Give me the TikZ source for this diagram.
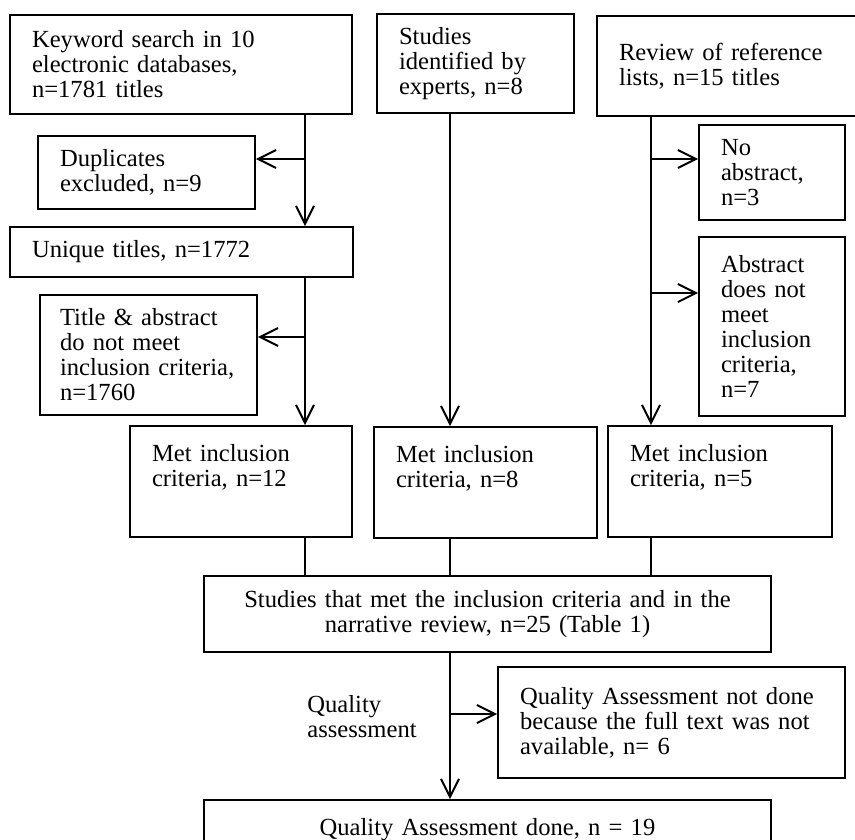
\documentclass[tikz,border=0pt]{standalone}
\usepackage{fontspec}
\setmainfont{Liberation Serif}
\usetikzlibrary{positioning, arrows.meta}

\begin{document}
\begin{tikzpicture}[x=0.02cm, y=-0.02cm,
    every node/.style={font=\fontsize{14}{14.2}\selectfont},
    box/.style={draw, line width=1.1pt, inner xsep=0.44cm, inner ysep=0pt, align=left},
    arr/.style={line width=1.1pt, -{Straight Barb[length=0.36cm, width=0.36cm, line width=1.1pt]}},
    link/.style={line width=0.75pt}]
                \useasboundingbox (0,0) rectangle (855,839);

                % Columns and branch points
                \coordinate (LeftCol) at (305,0);
                \coordinate (MidCol) at (450,0);
                \coordinate (RightCol) at (651,0);
                \coordinate (DupBranch) at (305,159);
                \coordinate (TitleBranch) at (305,337);
                \coordinate (NoAbsBranch) at (651,159);
                \coordinate (AbsBranch) at (651,293);
                \coordinate (QABranch) at (450,714);

                % Nodes
                \node[box, minimum width=6.84cm, text width=5.96cm, minimum height=1.98cm] (KeywordSearch) at (181,64.5) {Keyword search in 10\\electronic databases,\\n=1781 titles};
                \node[box, minimum width=3.94cm, text width=3.06cm, minimum height=1.98cm] (Experts) at (475.5,63.5) {Studies\\identified by\\experts, n=8};
                \node[box, minimum width=5.24cm, text width=4.36cm, minimum height=2cm] (RefLists) at (728,66) {Review of reference\\lists, n=15 titles};

                \node[box, minimum width=4.34cm, text width=3.46cm, minimum height=1.46cm] (Duplicates) at (146.5,172.5) {Duplicates\\excluded, n=9};
                \node[box, minimum width=6.86cm, text width=5.98cm, minimum height=1cm] (UniqueTitles) at (181.5,252) {Unique titles, n=1772};
                \node[box, inner xsep=0.4cm, minimum width=4.34cm, text width=3.54cm, minimum height=2.4cm] (TitleAbstract) at (148.5,355) {Title \& abstract\\do not meet\\inclusion criteria,\\n=1760};

                \node[box, minimum width=2.92cm, text width=2.04cm, minimum height=1.9cm] (NoAbstract) at (772,172.5) {No\\abstract,\\n=3};
                \node[box, minimum width=2.92cm, text width=2.04cm, minimum height=3.58cm] (AbstractFails) at (772,326.5) {Abstract\\does not\\meet\\inclusion\\criteria,\\n=7};

                \node[box, minimum width=4.44cm, text width=3.56cm, minimum height=2.22cm] (MetKeyword) at (241,481.5) {Met inclusion\\criteria, n=12\\ \strut};
                \node[box, minimum width=4.46cm, text width=3.58cm, minimum height=2.22cm] (MetExperts) at (485.5,482.5) {Met inclusion\\criteria, n=8\\ \strut};
                \node[box, minimum width=4.48cm, text width=3.6cm, minimum height=2.22cm] (MetRefLists) at (720,481.5) {Met inclusion\\criteria, n=5\\ \strut};

                \node[box, align=center, minimum width=11.34cm, text width=10.46cm, minimum height=1.52cm] (Narrative) at (487.5,614) {Studies that met the inclusion criteria and in the\\narrative review, n=25 (Table 1)};
                \node[align=left, anchor=west, inner sep=0pt] (QALabel) at (307,717) {Quality\\assessment};
                \node[box, minimum width=6.94cm, text width=6.06cm, minimum height=2.22cm] (QANotDone) at (671.5,722.5) {Quality Assessment not done\\because the full text was not\\available, n= 6};
                \node[box, align=center, minimum width=11.34cm, text width=10.46cm, minimum height=1.2cm] (QADone) at (487.5,830) {Quality Assessment done, n = 19};

                % Edges
                % database search column
                \draw[arr] (KeywordSearch.south -| LeftCol) -- (UniqueTitles.north -| LeftCol);
                \draw[arr] (DupBranch) -- (Duplicates.east |- DupBranch);
                \draw[arr] (UniqueTitles.south -| LeftCol) -- (MetKeyword.north -| LeftCol);
                \draw[arr] (TitleBranch) -- (TitleAbstract.east |- TitleBranch);

                % experts column
                \draw[arr] (Experts.south -| MidCol) -- (MetExperts.north -| MidCol);

                % reference list column
                \draw[arr] (RefLists.south -| RightCol) -- (MetRefLists.north -| RightCol);
                \draw[arr] (NoAbsBranch) -- (NoAbstract.west |- NoAbsBranch);
                \draw[arr] (AbsBranch) -- (AbstractFails.west |- AbsBranch);

                % into the narrative review
                \draw[link] (MetKeyword.south -| LeftCol) -- (Narrative.north -| LeftCol);
                \draw[line width=1.1pt] (MetExperts.south -| MidCol) -- (Narrative.north -| MidCol);
                \draw[link] (MetRefLists.south -| RightCol) -- (Narrative.north -| RightCol);

                % quality assessment
                \draw[arr] (Narrative.south -| MidCol) -- (QADone.north -| MidCol);
                \draw[arr] (QABranch) -- (QANotDone.west |- QABranch);

            \end{tikzpicture}
\end{document}
